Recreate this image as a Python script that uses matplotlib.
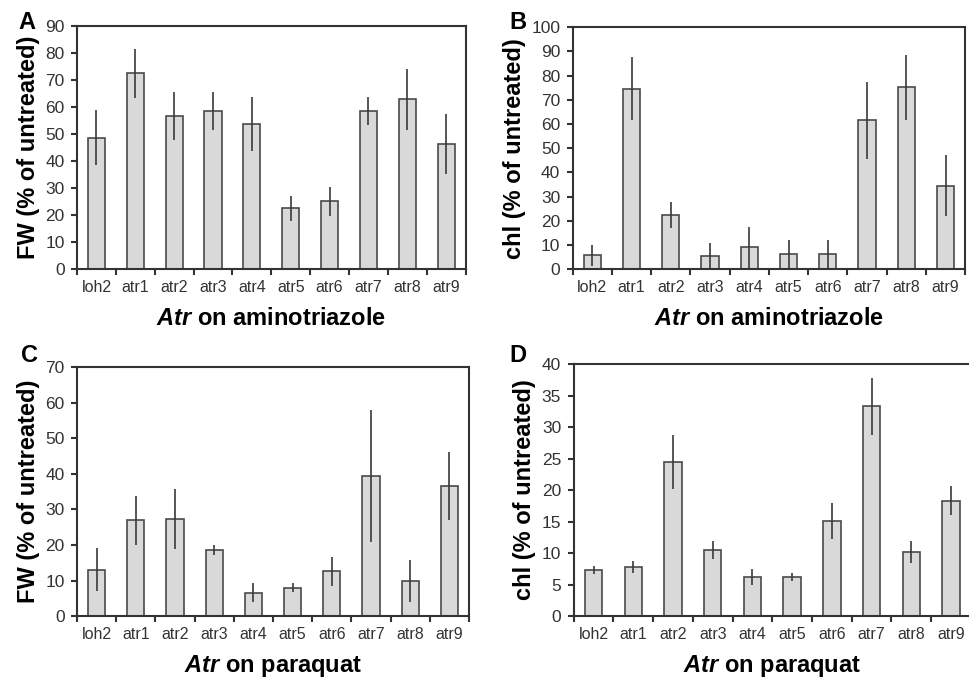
import numpy as np
import matplotlib.pyplot as plt

plt.rcParams['font.family'] = ['Liberation Sans', 'DejaVu Sans']
plt.rcParams['mathtext.fontset'] = 'custom'
plt.rcParams['mathtext.it'] = 'Liberation Sans:italic:bold'

lines = ['loh2', 'atr1', 'atr2', 'atr3', 'atr4', 'atr5', 'atr6', 'atr7', 'atr8', 'atr9']

# A: fresh weight on aminotriazole
fw_amt = [48.7, 72.4, 56.6, 58.5, 53.6, 22.6, 25.1, 58.5, 62.8, 46.4]
fw_amt_err = [10.2, 9.0, 8.8, 7.0, 10.0, 4.6, 5.5, 5.3, 11.2, 11.0]
# B: chlorophyll on aminotriazole
chl_amt = [5.8, 74.5, 22.5, 5.6, 9.1, 6.3, 6.3, 61.5, 75.1, 34.6]
chl_amt_err = [4.3, 13.0, 5.4, 5.3, 8.5, 6.0, 6.0, 15.8, 13.4, 12.7]
# C: fresh weight on paraquat
fw_pq = [13.1, 26.9, 27.3, 18.6, 6.6, 8.0, 12.6, 39.3, 9.9, 36.6]
fw_pq_err = [6.0, 6.8, 8.4, 1.3, 2.7, 1.3, 4.0, 18.6, 5.8, 9.6]
# D: chlorophyll on paraquat
chl_pq = [7.3, 7.8, 24.4, 10.5, 6.2, 6.2, 15.1, 33.3, 10.2, 18.3]
chl_pq_err = [0.7, 0.95, 4.3, 1.4, 1.2, 0.7, 2.8, 4.5, 1.75, 2.3]

fig = plt.figure(figsize=(9.69, 6.8), dpi=100)

panels = [
    ([0.0795, 0.604, 0.401, 0.358], fw_amt, fw_amt_err, 90, 10,
     'FW (% of untreated)', 'aminotriazole', 'A', (0.028, 0.984)),
    ([0.591, 0.604, 0.405, 0.356], chl_amt, chl_amt_err, 100, 10,
     'chl (% of untreated)', 'aminotriazole', 'B', (0.535, 0.984)),
    ([0.0795, 0.094, 0.4045, 0.366], fw_pq, fw_pq_err, 70, 10,
     'FW (% of untreated)', 'paraquat', 'C', (0.030, 0.494)),
    ([0.592, 0.094, 0.41, 0.3706], chl_pq, chl_pq_err, 40, 5,
     'chl (% of untreated)', 'paraquat', 'D', (0.535, 0.494)),
]

x = np.arange(len(lines))
for rect, vals, errs, ymax, step, ylab, treat, letter, lpos in panels:
    ax = fig.add_axes(rect)
    ax.bar(x, vals, width=0.44, color='#d9d9d9', edgecolor='#4a4a4a', linewidth=1.2)
    ax.errorbar(x, vals, yerr=errs, fmt='none', ecolor='#3a3a3a', elinewidth=1.2, capsize=0)
    ax.set_xlim(-0.5, 9.5)
    ax.set_ylim(0, ymax)
    ax.set_yticks(np.arange(0, ymax + 1, step))
    ax.set_xticks(x)
    ax.set_xticklabels(lines)
    ax.set_xticks(np.arange(-0.5, 10, 1), minor=True)
    ax.tick_params(axis='x', which='major', length=0, pad=8, labelsize=11.5, colors='#333333')
    ax.tick_params(axis='x', which='minor', length=4, width=1.5, direction='out', color='#333333')
    ax.tick_params(axis='y', length=4, width=1.5, direction='out', labelsize=12.5,
                   colors='#333333', pad=5)
    for s in ax.spines.values():
        s.set_linewidth(1.5)
        s.set_color('#333333')
    ax.set_ylabel(ylab, fontsize=17, fontweight='bold', labelpad=4)
    ax.set_xlabel(r'$\mathit{Atr}$ on ' + treat, fontsize=17, fontweight='bold', labelpad=8)
    fig.text(lpos[0], lpos[1], letter, fontsize=17, fontweight='bold', ha='center', va='top')

fig.savefig('out.png', dpi=100)
